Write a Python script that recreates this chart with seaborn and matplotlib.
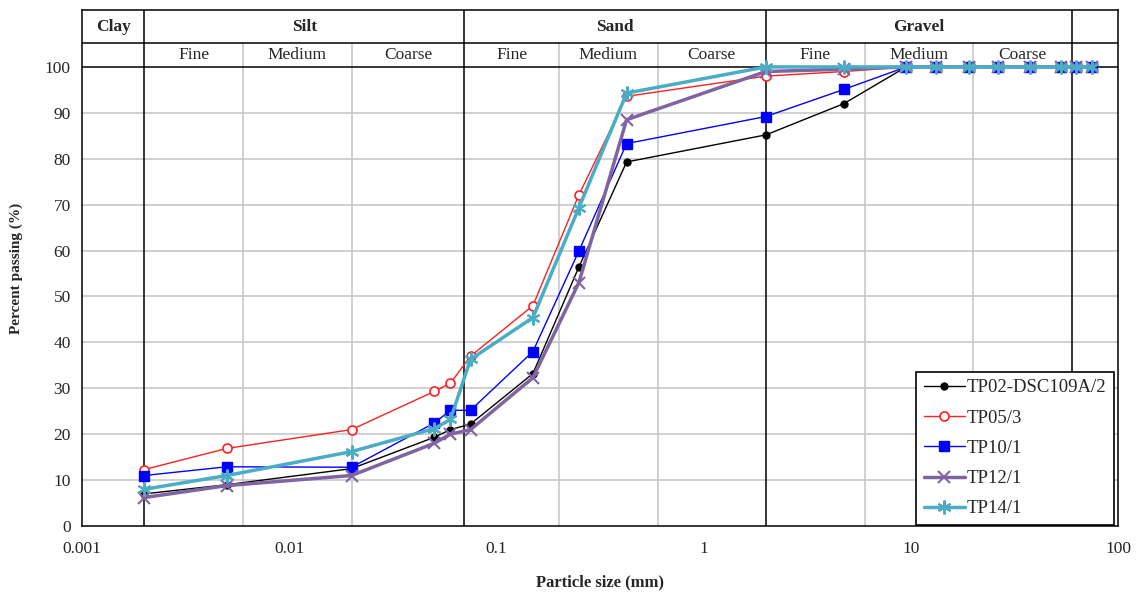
import numpy as np
import pandas as pd
import matplotlib
matplotlib.use("Agg")
import matplotlib.pyplot as plt
import seaborn as sns

# ---- data ----
sieve_mm = [0.002, 0.005, 0.02, 0.05, 0.06, 0.075, 0.15, 0.25, 0.425, 2, 4.75,
            9.5, 13.2, 19, 26.5, 37.5, 53, 63, 75]
tp02 = [7.0, 9.0, 12.5, 19.3, 21.0, 22.2, 33.2, 56.4, 79.3, 85.2, 92.0,
        100, 100, 100, 100, 100, 100, 100, 100]
tp05 = [12.3, 16.9, 21.0, 29.3, 31.1, 37.0, 48.0, 72.1, 93.6, 98.0, 99.0,
        100, 100, 100, 100, 100, 100, 100, 100]
tp10 = [11.0, 12.9, 12.8, 22.4, 25.2, 25.2, 38.0, 59.9, 83.3, 89.2, 95.1,
        100, 100, 100, 100, 100, 100, 100, 100]
tp12 = [6.2, 8.8, 11.0, 18.0, 20.0, 21.0, 32.3, 53.0, 88.5, 99.0, 99.5,
        100, 100, 100, 100, 100, 100, 100, 100]
tp14 = [8.0, 11.0, 16.2, 21.2, 23.2, 36.3, 45.4, 69.3, 94.3, 100, 100,
        100, 100, 100, 100, 100, 100, 100, 100]
series_names = ["TP02-DSC109A/2", "TP05/3", "TP10/1", "TP12/1", "TP14/1"]
series_values = [tp02, tp05, tp10, tp12, tp14]

main_classes = ["Clay", "Silt", "Sand", "Gravel", ""]
main_bounds = [0.001, 0.002, 0.07, 2, 60, 100]
sub_labels = ["Fine", "Medium", "Coarse"]
sub_bounds = [[0.002, 0.006, 0.02, 0.07], [0.07, 0.2, 0.6, 2], [2, 6, 20, 60]]
y_ticks = [0, 10, 20, 30, 40, 50, 60, 70, 80, 90, 100]
x_ticks = [0.001, 0.01, 0.1, 1, 10, 100]
x_ticklabels = ["0.001", "0.01", "0.1", "1", "10", "100"]

styles = [
    dict(color="black", lw=1.0, marker="o", ms=5, mfc="black", mec="black", mew=1),
    dict(color="#ff2020", lw=1.0, marker="o", ms=6.5, mfc="white", mec="#ff2020", mew=1.2),
    dict(color="#0000ff", lw=1.0, marker="s", ms=7, mfc="#0000ff", mec="#0000ff", mew=1),
    dict(color="#8064a2", lw=2.5, marker="x", ms=9, mfc="#8064a2", mec="#8064a2", mew=1.5),
    dict(color="#4bacc6", lw=2.5, marker=(6, 2, 0), ms=10, mfc="#4bacc6", mec="#4bacc6", mew=1.5),
]

sns.set_style("white")
plt.rcParams["font.family"] = ["Liberation Serif", "DejaVu Serif"]

fig = plt.figure(figsize=(11.43, 5.96), dpi=100)
ax = fig.add_axes([82 / 1143, 1 - 526 / 596, (1118 - 82) / 1143, (526 - 10) / 596])

ytop = 112.4
yhead = 105.2

ax.set_xscale("log")
ax.set_xlim(0.001, 100)
ax.set_ylim(0, ytop)

# gridlines
for yv in y_ticks[1:-1]:
    ax.axhline(yv, color="#c8c8c8", lw=1.2, zorder=0)
for grp in sub_bounds:
    for xv in grp[1:-1]:
        ax.plot([xv, xv], [0, yhead], color="#c8c8c8", lw=1.2, zorder=0)
for xv in main_bounds[1:-1]:
    ax.plot([xv, xv], [0, ytop], color="black", lw=1.1, zorder=1)
ax.axhline(100, color="black", lw=1.1, zorder=1)
ax.axhline(yhead, color="black", lw=1.1, zorder=1)

# header text
for i, name in enumerate(main_classes):
    if name:
        xc = np.sqrt(main_bounds[i] * main_bounds[i + 1])
        ax.text(xc, (yhead + ytop) / 2, name, ha="center", va="center",
                fontsize=12.5, fontweight="bold", zorder=2)
for grp in sub_bounds:
    for j, lab in enumerate(sub_labels):
        xc = np.sqrt(grp[j] * grp[j + 1])
        ax.text(xc, (100 + yhead) / 2, lab, ha="center", va="center",
                fontsize=12.5, zorder=2)

# curves
for name, vals, st in zip(series_names, series_values, styles):
    df = pd.DataFrame({"size": sieve_mm, "passing": vals})
    sns.lineplot(data=df, x="size", y="passing", ax=ax, sort=False,
                 color=st["color"], linewidth=st["lw"], marker=st["marker"],
                 markersize=st["ms"], markerfacecolor=st["mfc"],
                 markeredgecolor=st["mec"], markeredgewidth=st["mew"],
                 label=name, zorder=5)

ax.set_yticks(y_ticks)
ax.set_yticklabels([str(v) for v in y_ticks])
ax.set_xticks(x_ticks)
ax.set_xticklabels(x_ticklabels)
ax.xaxis.set_minor_locator(matplotlib.ticker.LogLocator(base=10, subs=np.arange(2, 10)))
ax.xaxis.set_minor_formatter(matplotlib.ticker.NullFormatter())
ax.tick_params(axis="both", which="major", direction="out", length=5, width=1,
               labelsize=12.5, color="black")
ax.tick_params(axis="x", which="major", pad=6)
ax.tick_params(axis="x", which="minor", direction="out", length=4, width=1, color="black")
ax.tick_params(axis="y", which="major", pad=3)
for s in ax.spines.values():
    s.set_color("black")
    s.set_linewidth(1.1)

ax.set_xlabel("Particle size (mm)", fontsize=12, fontweight="bold", labelpad=12)
ax.set_ylabel("Percent passing (%)", fontsize=11, fontweight="bold", labelpad=16)

leg = ax.legend(loc="lower right", bbox_to_anchor=(0.996, 0.002), fontsize=13.5,
                frameon=True, fancybox=False, edgecolor="black", framealpha=1,
                handlelength=2.2, handletextpad=0.1, labelspacing=0.7,
                borderpad=0.4, borderaxespad=0)
leg.get_frame().set_linewidth(1.2)
leg.set_zorder(10)

fig.savefig("out.png", dpi=100)
